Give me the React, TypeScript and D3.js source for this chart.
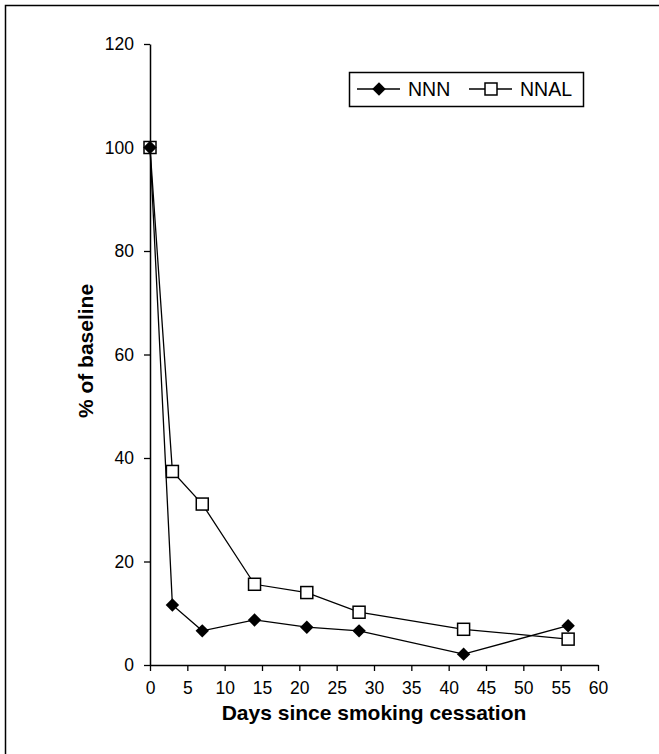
import React, { useEffect, useRef } from "react";
import * as d3 from "d3";

// data
const days = [0, 3, 7, 14, 21, 28, 42, 56];
const nnnValues = [100, 11.6, 6.6, 8.7, 7.3, 6.6, 2.1, 7.6];
const nnalValues = [100, 37.4, 31.1, 15.6, 14.0, 10.2, 6.9, 5.0];
const xTicks = [0, 5, 10, 15, 20, 25, 30, 35, 40, 45, 50, 55, 60];
const yTicks = [0, 20, 40, 60, 80, 100, 120];

const W = 659, H = 754;
const font = "Arial, 'Liberation Sans', Helvetica, sans-serif";

export default function App() {
  const ref = useRef<SVGSVGElement>(null);

  useEffect(() => {
    const svg = d3.select(ref.current);
    svg.selectAll("*").remove();

    // outer frame (open at right/bottom like the scan)
    svg.append("path")
      .attr("d", `M5.5,${H} L5.5,5.5 L${W},5.5`)
      .attr("fill", "none").attr("stroke", "#000").attr("stroke-width", 1.5);

    const x = d3.scaleLinear().domain([0, 60]).range([150, 598]);
    const y = d3.scaleLinear().domain([0, 120]).range([665, 44]);

    const xAxis = svg.append("g")
      .attr("transform", "translate(0,665)")
      .call(d3.axisBottom(x).tickValues(xTicks).tickSize(6).tickSizeOuter(0).tickPadding(11));
    const yAxis = svg.append("g")
      .attr("transform", "translate(150,0)")
      .call(d3.axisLeft(y).tickValues(yTicks).tickSize(6).tickSizeOuter(0).tickPadding(10));

    [xAxis, yAxis].forEach(g => {
      g.attr("font-size", 17.5).attr("font-family", font);
      g.select(".domain").attr("stroke", "#000").attr("stroke-width", 1.5);
      g.selectAll(".tick line").attr("stroke", "#000").attr("stroke-width", 1.3);
      g.selectAll(".tick text").attr("fill", "#000");
    });

    const line = d3.line<[number, number]>()
      .x(d => x(d[0])).y(d => y(d[1]));

    const nnn: [number, number][] = days.map((d, i) => [d, nnnValues[i]]);
    const nnal: [number, number][] = days.map((d, i) => [d, nnalValues[i]]);

    svg.append("path").attr("d", line(nnal)).attr("fill", "none")
      .attr("stroke", "#000").attr("stroke-width", 1.3);
    svg.append("path").attr("d", line(nnn)).attr("fill", "none")
      .attr("stroke", "#000").attr("stroke-width", 1.3);

    const diamond = d3.symbol().type(d3.symbolDiamond2).size(115);

    svg.selectAll(".sq").data(nnal).enter().append("rect")
      .attr("x", d => x(d[0]) - 6).attr("y", d => y(d[1]) - 6)
      .attr("width", 12).attr("height", 12)
      .attr("fill", "#fff").attr("stroke", "#000").attr("stroke-width", 1.5);
    svg.selectAll(".dm").data(nnn).enter().append("path")
      .attr("d", diamond)
      .attr("transform", d => `translate(${x(d[0])},${y(d[1])})`)
      .attr("fill", "#000");

    // legend
    const lg = svg.append("g");
    lg.append("rect").attr("x", 349.5).attr("y", 72.5).attr("width", 234).attr("height", 34)
      .attr("fill", "#fff").attr("stroke", "#000").attr("stroke-width", 1.5);
    lg.append("line").attr("x1", 357).attr("x2", 400).attr("y1", 89).attr("y2", 89)
      .attr("stroke", "#000").attr("stroke-width", 1.3);
    lg.append("path").attr("d", diamond).attr("transform", "translate(379,89)").attr("fill", "#000");
    lg.append("text").attr("x", 408).attr("y", 96).text("NNN")
      .attr("font-family", font).attr("font-size", 19.5);
    lg.append("line").attr("x1", 469).attr("x2", 512).attr("y1", 89).attr("y2", 89)
      .attr("stroke", "#000").attr("stroke-width", 1.3);
    lg.append("rect").attr("x", 485).attr("y", 83).attr("width", 12).attr("height", 12)
      .attr("fill", "#fff").attr("stroke", "#000").attr("stroke-width", 1.5);
    lg.append("text").attr("x", 520).attr("y", 96).text("NNAL")
      .attr("font-family", font).attr("font-size", 19.5);

    // axis titles
    svg.append("text").attr("x", 374).attr("y", 720).attr("text-anchor", "middle")
      .attr("font-family", font).attr("font-size", 21).attr("font-weight", "bold")
      .text("Days since smoking cessation");
    svg.append("text").attr("transform", "translate(93,351) rotate(-90)")
      .attr("text-anchor", "middle")
      .attr("font-family", font).attr("font-size", 21).attr("font-weight", "bold")
      .text("% of baseline");
  }, []);

  return (
    <svg ref={ref} width={W} height={H} style={{ position: "absolute", left: 0, top: 0, background: "#fff" }} />
  );
}
